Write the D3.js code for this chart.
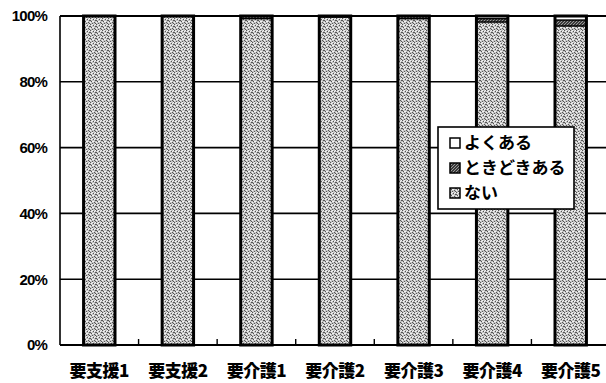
<!DOCTYPE html>
<html><head><meta charset="utf-8">
<script src="https://cdn.jsdelivr.net/npm/d3@7"></script>
<style>html,body{margin:0;padding:0;background:#fff;}svg{display:block;}</style>
</head><body>
<svg id="chart" width="606" height="383"></svg>
<script>
const categories = ["要支援1","要支援2","要介護1","要介護2","要介護3","要介護4","要介護5"];
const seriesNames = ["ない","ときどきある","よくある"]; // bottom to top
const nai       = [100, 100, 99.2, 99.7, 99.2, 98.2, 97.0];
const tokidoki  = [0,   0,   0.8,  0.3,  0.8,  1.0,  1.8];
const yokuaru   = [0,   0,   0,    0,    0,    0.8,  1.2];
const yTicks = [0,20,40,60,80,100];
const legendOrder = ["よくある","ときどきある","ない"];

const svg = d3.select("#chart");
const W = 606, H = 383;
const m = {left:60, right:-4, top:16, bottom:38};
const x = d3.scaleBand().domain(categories).range([m.left, W - m.right]).paddingInner(0.6).paddingOuter(0.3);
const xb = d3.scaleBand().domain(categories).range([m.left, W - m.right]).padding(0);
const y = d3.scaleLinear().domain([0,100]).range([H - m.bottom, m.top]);

// stipple patterns (fixed dot layout)
const defs = svg.append("defs");
const p1 = defs.append("pattern").attr("id","stip").attr("width",6).attr("height",6).attr("patternUnits","userSpaceOnUse");
p1.append("rect").attr("width",6).attr("height",6).attr("fill","#c4c4c4");
const darkDots = [[0,0],[3,1],[5,2],[1,3],[4,4],[2,5],[0,2],[5,5]];
const lightDots = [[2,0],[4,1],[1,1],[3,3],[0,4],[5,0],[2,3]];
darkDots.forEach(([a,b])=>p1.append("rect").attr("x",a).attr("y",b).attr("width",1).attr("height",1).attr("fill","#555"));
lightDots.forEach(([a,b])=>p1.append("rect").attr("x",a).attr("y",b).attr("width",1).attr("height",1).attr("fill","#f4f4f4"));
const p2 = defs.append("pattern").attr("id","dark").attr("width",3).attr("height",3).attr("patternUnits","userSpaceOnUse");
p2.append("rect").attr("width",3).attr("height",3).attr("fill","#3a3a3a");
[[0,0],[2,1],[1,2]].forEach(([a,b])=>p2.append("rect").attr("x",a).attr("y",b).attr("width",1).attr("height",1).attr("fill","#999"));

const fills = {"ない":"url(#stip)","ときどきある":"url(#dark)","よくある":"#ffffff"};

// gridlines
svg.append("g").selectAll("line").data(yTicks.filter(d=>d>0)).join("line")
  .attr("x1", m.left).attr("x2", W).attr("y1", d=>y(d)).attr("y2", d=>y(d))
  .attr("stroke","#000").attr("stroke-width", d=> d===100?2:1.6);

const rows = categories.map((c,i)=>({cat:c,"ない":nai[i],"ときどきある":tokidoki[i],"よくある":yokuaru[i]}));
const stacked = d3.stack().keys(seriesNames)(rows);

const g = svg.append("g");
stacked.forEach(s=>{
  g.append("g").selectAll("rect").data(s.filter(d=>d[1]-d[0]>0)).join("rect")
    .attr("x", d=>x(d.data.cat)).attr("width", x.bandwidth())
    .attr("y", d=>y(d[1])).attr("height", d=>y(d[0])-y(d[1]))
    .attr("fill", fills[s.key]).attr("stroke","#000").attr("stroke-width",1.2);
});
g.append("g").selectAll("rect").data(rows).join("rect")
  .attr("x", d=>x(d.cat)).attr("width", x.bandwidth())
  .attr("y", y(100)).attr("height", y(0)-y(100))
  .attr("fill","none").attr("stroke","#000").attr("stroke-width",3);

svg.append("line").attr("x1",m.left).attr("x2",m.left).attr("y1",y(100)).attr("y2",y(0)).attr("stroke","#000").attr("stroke-width",1.6);
svg.append("line").attr("x1",m.left).attr("x2",W).attr("y1",y(0)).attr("y2",y(0)).attr("stroke","#000").attr("stroke-width",1.8);
svg.append("g").selectAll("line").data(categories.slice(1)).join("line")
  .attr("x1", d=>xb(d)).attr("x2", d=>xb(d)).attr("y1", y(0)).attr("y2", y(0)-6)
  .attr("stroke","#000").attr("stroke-width",1.4);

svg.append("g").selectAll("text").data(yTicks).join("text")
  .attr("x", 47).attr("y", d=>y(d)).attr("dy","0.36em").attr("text-anchor","end")
  .attr("font-family","'Liberation Sans', Arial, sans-serif").attr("font-weight","bold").attr("font-size",15)
  .attr("letter-spacing","-0.8")
  .text(d=>d+"%");

svg.append("g").selectAll("text").data(categories).join("text")
  .attr("x", d=>xb(d)+xb.bandwidth()/2).attr("y", 377).attr("text-anchor","middle")
  .attr("font-family","'Noto Sans CJK JP', sans-serif").attr("font-weight","900").attr("font-size",17)
  .attr("letter-spacing","-0.5")
  .text(d=>d);

const lg = svg.append("g");
lg.append("rect").attr("x",438).attr("y",127).attr("width",136).attr("height",82)
  .attr("fill","#fff").attr("stroke","#000").attr("stroke-width",1.6);
const legFill = {"よくある":"#ffffff","ときどきある":"url(#dark)","ない":"url(#stip)"};
legendOrder.forEach((k,i)=>{
  const cy = 143 + i*25;
  lg.append("rect").attr("x",450).attr("y",cy-5).attr("width",10).attr("height",10)
    .attr("fill",legFill[k]).attr("stroke","#000").attr("stroke-width",1.5);
  lg.append("text").attr("x",464).attr("y",cy).attr("dy","0.36em")
    .attr("font-family","'Noto Sans CJK JP', sans-serif").attr("font-weight","bold").attr("font-size",17)
    .text(k);
});
</script>
</body></html>
